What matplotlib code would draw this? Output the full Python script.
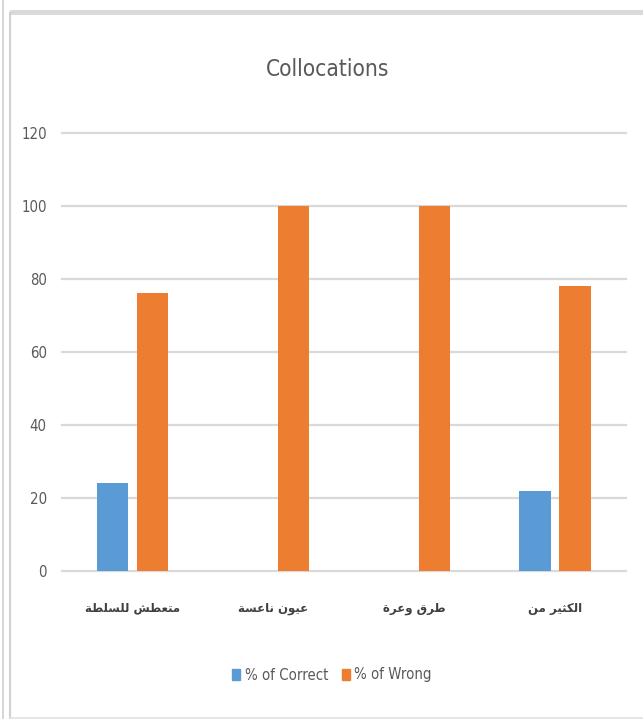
import matplotlib
matplotlib.use("Agg")
import matplotlib.pyplot as plt
from matplotlib import font_manager
from matplotlib.font_manager import FontProperties
from matplotlib.lines import Line2D
from matplotlib.patches import Rectangle
import numpy as np

# ---- data ----
categories = ["متعطش للسلطة", "عيون ناعسة", "طرق وعرة", "الكثير من"]
pct_correct = [24, 0, 0, 22]
pct_wrong = [76, 100, 100, 78]
series_names = ["% of Correct", "% of Wrong"]
yticks = [0, 20, 40, 60, 80, 100, 120]
title = "Collocations"

# ---- minimal Arabic shaping (presentation forms) ----
FORMS = {  # isolated, final, initial, medial
    "ا": (0xFE8D, 0xFE8E, None, None),
    "ة": (0xFE93, 0xFE94, None, None),
    "ت": (0xFE95, 0xFE96, 0xFE97, 0xFE98),
    "ث": (0xFE99, 0xFE9A, 0xFE9B, 0xFE9C),
    "ر": (0xFEAD, 0xFEAE, None, None),
    "س": (0xFEB1, 0xFEB2, 0xFEB3, 0xFEB4),
    "ش": (0xFEB5, 0xFEB6, 0xFEB7, 0xFEB8),
    "ص": (0xFEB9, 0xFEBA, 0xFEBB, 0xFEBC),
    "ط": (0xFEC1, 0xFEC2, 0xFEC3, 0xFEC4),
    "ع": (0xFEC9, 0xFECA, 0xFECB, 0xFECC),
    "ق": (0xFED5, 0xFED6, 0xFED7, 0xFED8),
    "ك": (0xFED9, 0xFEDA, 0xFEDB, 0xFEDC),
    "ل": (0xFEDD, 0xFEDE, 0xFEDF, 0xFEE0),
    "م": (0xFEE1, 0xFEE2, 0xFEE3, 0xFEE4),
    "ن": (0xFEE5, 0xFEE6, 0xFEE7, 0xFEE8),
    "و": (0xFEED, 0xFEEE, None, None),
    "ي": (0xFEF1, 0xFEF2, 0xFEF3, 0xFEF4),
}


def dual(c):
    return c in FORMS and FORMS[c][2] is not None


def shape(text):
    out = []
    for i, c in enumerate(text):
        if c not in FORMS:
            out.append(c)
            continue
        prev = text[i - 1] if i > 0 else None
        nxt = text[i + 1] if i + 1 < len(text) else None
        cp = prev is not None and dual(prev)
        cn = dual(c) and nxt is not None and nxt in FORMS
        f = FORMS[c]
        if cp and cn:
            code = f[3]
        elif cp:
            code = f[1]
        elif cn:
            code = f[2]
        else:
            code = f[0]
        out.append(chr(code))
    return "".join(out)[::-1]


# look for a condensed / narrow sans face
narrow_file = None
for f in font_manager.fontManager.ttflist:
    fn = f.fname.lower()
    if ("narrow" in fn or "condensed" in fn) and "bold" not in fn and "italic" not in fn \
            and "oblique" not in fn and "serif" not in fn and "mono" not in fn:
        narrow_file = f.fname
        break

scale = 1.0 if narrow_file is None else 0.93


def fp(size):
    if narrow_file:
        return FontProperties(fname=narrow_file, size=size * scale)
    return FontProperties(family="Liberation Sans", size=size * 0.8)


TXT = "#595959"
GRID = "#D9D9D9"
BLUE = "#5B9BD5"
ORANGE = "#ED7D31"

W, H = 643, 719
fig = plt.figure(figsize=(W / 100, H / 100), dpi=100)
fig.patch.set_facecolor("white")

# window frame decoration
fig.add_artist(Line2D([2.7 / W, 2.7 / W], [0, 1], color="#D0D0D0", lw=1.2, transform=fig.transFigure))
fig.add_artist(Line2D([10 / W, 10 / W], [0, 1 - 13 / H], color="#D0D0D0", lw=1.5, transform=fig.transFigure))
fig.add_artist(Rectangle((10 / W, 1 - 14.5 / H), 1, 5 / H, color="#DADADA", lw=0, transform=fig.transFigure))
fig.add_artist(Line2D([10 / W, 1], [1.2 / H, 1.2 / H], color="#E0E0E0", lw=1.2, transform=fig.transFigure))

left, right = 62 / W, 625.7 / W
bottom, top = 1 - 571 / H, 1 - 132.7 / H
ax = fig.add_axes([left, bottom, right - left, top - bottom])

x = np.arange(len(categories))
bw = 0.224
off = 0.142
ax.bar(x - off, pct_correct, bw, color=BLUE, label=series_names[0], zorder=3)
ax.bar(x + off, pct_wrong, bw, color=ORANGE, label=series_names[1], zorder=3)

ax.set_xlim(-0.5, len(categories) - 0.5)
ax.set_ylim(0, 120)
ax.set_yticks(yticks)
ax.set_yticklabels([str(v) for v in yticks], color=TXT, fontproperties=fp(11.5))
ax.yaxis.grid(True, color=GRID, lw=1.6, zorder=0)
for gl in ax.get_ygridlines():
    gl.set_clip_on(False)
ax.set_axisbelow(True)
ax.tick_params(axis="y", length=0, pad=11)
ax.tick_params(axis="x", length=0, pad=22)
ax.set_xticks(x)
ax.set_xticklabels([shape(c) for c in categories], fontsize=8.5, color="#404040",
                   family=["DejaVu Sans"], fontweight="bold")
for s in ax.spines.values():
    s.set_visible(False)

fig.text(328 / W, 1 - 69 / H, title, ha="center", va="center", color=TXT,
         fontproperties=fp(17.5))

handles = [Rectangle((0, 0), 1, 1, color=BLUE), Rectangle((0, 0), 1, 1, color=ORANGE)]
leg = fig.legend(handles, series_names, loc="center", bbox_to_anchor=(332 / W, 1 - 675 / H),
                 ncol=2, frameon=False, prop=fp(11.5), handlelength=0.55, handleheight=0.8,
                 handletextpad=0.3, columnspacing=0.9)
for t in leg.get_texts():
    t.set_color(TXT)

fig.savefig("out.png", dpi=100, facecolor="white")
